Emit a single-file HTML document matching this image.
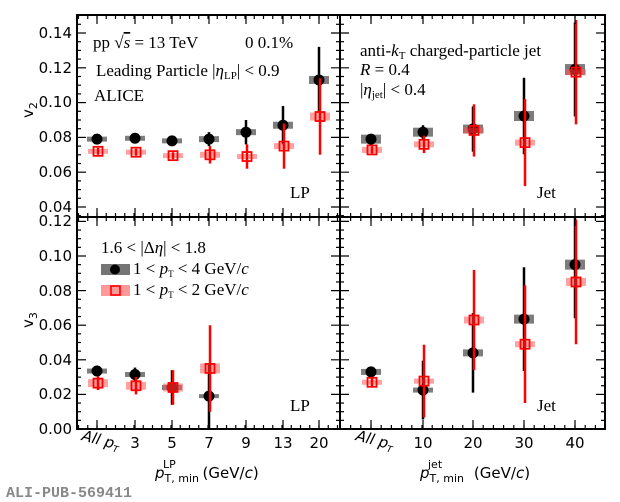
<!DOCTYPE html>
<html><head><meta charset="utf-8"><style>
body{margin:0;background:#fff;}
svg{display:block;}
.t{font-family:"DejaVu Sans","Liberation Sans",sans-serif;font-size:15px;fill:#000;}
.s{font-family:"Liberation Serif","DejaVu Serif",serif;font-size:17px;fill:#000;}
</style></head><body>
<svg id="c" width="620" height="502" viewBox="0 0 620 502" xmlns="http://www.w3.org/2000/svg">
<rect width="620" height="502" fill="#fff"/>
<g id="data"></g>
<g id="ticks" stroke="#000" stroke-width="1.2"></g>
<rect x="77" y="15" width="528" height="414" fill="none" stroke="#000" stroke-width="2"/>
<line x1="340" y1="15" x2="340" y2="429" stroke="#000" stroke-width="2"/>
<line x1="77" y1="217" x2="605" y2="217" stroke="#000" stroke-width="2"/>
<g class="t" text-anchor="end">
<text x="72" y="38">0.14</text><text x="72" y="73">0.12</text><text x="72" y="107">0.10</text>
<text x="72" y="142">0.08</text><text x="72" y="177">0.06</text><text x="72" y="212">0.04</text>
<text x="72" y="226">0.12</text><text x="72" y="261">0.10</text><text x="72" y="296">0.08</text>
<text x="72" y="330">0.06</text><text x="72" y="365">0.04</text><text x="72" y="399">0.02</text><text x="72" y="434">0.00</text>
</g>
<text class="t" x="28" y="123" transform="rotate(-90 28 118)" font-size="16">v<tspan font-size="11" dy="4">2</tspan></text>
<text class="t" x="28" y="333" transform="rotate(-90 28 328)" font-size="16">v<tspan font-size="11" dy="4">3</tspan></text>
<g class="t" text-anchor="middle">
<text x="135" y="448">3</text><text x="172" y="448">5</text><text x="209" y="448">7</text><text x="246" y="448">9</text><text x="283" y="448">13</text><text x="319" y="448">20</text>
<text x="423" y="448">10</text><text x="473" y="448">20</text><text x="524" y="448">30</text><text x="575" y="448">40</text>
</g>
<text class="t" font-size="12" font-style="italic" transform="translate(81 440) rotate(15)">All p<tspan font-size="9" dy="3">T</tspan></text>
<text class="t" font-size="12" font-style="italic" transform="translate(355 440) rotate(15)">All p<tspan font-size="9" dy="3">T</tspan></text>
<text class="t" x="155" y="478" font-size="16"><tspan font-style="italic">p</tspan><tspan font-size="11" dy="4">T, min</tspan><tspan font-size="11" dx="-36" dy="-14">LP</tspan><tspan dx="22" dy="10"> (GeV/</tspan><tspan font-style="italic">c</tspan>)</text>
<text class="t" x="420" y="478" font-size="16"><tspan font-style="italic">p</tspan><tspan font-size="11" dy="4">T, min</tspan><tspan font-size="11" dx="-36" dy="-14">jet</tspan><tspan dx="27" dy="10"> (GeV/</tspan><tspan font-style="italic">c</tspan>)</text>
<text x="6" y="497" font-family="Liberation Mono,monospace" font-weight="bold" font-size="15" fill="#888">ALI-PUB-569411</text>
<text class="s" x="93" y="48" font-size="18">pp <tspan>√</tspan><tspan text-decoration="overline" font-style="italic">s</tspan> = 13 TeV</text>
<text class="s" x="245" y="48" font-size="18">0  0.1%</text>
<text class="s" x="96" y="76" font-size="17">Leading Particle |<tspan font-style="italic">η</tspan><tspan font-size="11" dy="3">LP</tspan><tspan dy="-3">| &lt; 0.9</tspan></text>
<text class="s" x="94" y="101" font-size="19">ALICE</text>
<text class="s" x="290" y="198" font-size="18">LP</text>
<text class="s" x="360" y="56" font-size="17">anti-<tspan font-style="italic">k</tspan><tspan font-size="11" dy="3">T</tspan><tspan dy="-3"> charged-particle jet</tspan></text>
<text class="s" x="360" y="75" font-size="18" font-style="italic">R<tspan font-style="normal"> = 0.4</tspan></text>
<text class="s" x="360" y="95" font-size="18">|<tspan font-style="italic">η</tspan><tspan font-size="11" dy="3">jet</tspan><tspan dy="-3">| &lt; 0.4</tspan></text>
<text class="s" x="537" y="198" font-size="18">Jet</text>
<text class="s" x="290" y="411" font-size="18">LP</text>
<text class="s" x="537" y="411" font-size="18">Jet</text>
<text class="s" x="101" y="253" font-size="17">1.6 &lt; |Δ<tspan font-style="italic">η</tspan>| &lt; 1.8</text>
<rect x="101" y="264" width="29" height="11" fill="#666" opacity="0.9"/>
<circle cx="115" cy="269.5" r="5" fill="#000"/>
<text class="s" x="133" y="274" font-size="14">1 &lt; <tspan font-style="italic">p</tspan><tspan font-size="9" dy="3">T</tspan><tspan dy="-3"> &lt; 4 GeV/</tspan><tspan font-style="italic">c</tspan></text>
<rect x="101" y="285" width="29" height="11" fill="#f55" opacity="0.6"/>
<rect x="111" y="286" width="9" height="9" fill="none" stroke="#f00" stroke-width="1.6"/>
<text class="s" x="133" y="295" font-size="14">1 &lt; <tspan font-style="italic">p</tspan><tspan font-size="9" dy="3">T</tspan><tspan dy="-3"> &lt; 2 GeV/</tspan><tspan font-style="italic">c</tspan></text>
</svg>
<script>
var NS="http://www.w3.org/2000/svg";
function el(p,n,a){var e=document.createElementNS(NS,n);for(var k in a)e.setAttribute(k,a[k]);p.appendChild(e);return e;}
var D=document.getElementById("data"),T=document.getElementById("ticks");
function yt(v){return 33+(0.14-v)*1740;}
function yb(v){return 429-v*1730;}
function clip(y,top){return Math.max(y,top);}
var XL=[97,135,172,209,246,283,319],XR=[371,423,473,524,575];
function series(xs,vals,errs,sysh,fy,top,bot,red,dx){
 for(var i=0;i<vals.length;i++){
  var x=xs[i]+dx,y=fy(vals[i]),y1=clip(fy(vals[i]+errs[i]),top),y2=Math.min(fy(vals[i]-errs[i]),bot);
  var h=sysh[i];
  el(D,"rect",{x:x-10,y:y-h/2,width:20,height:h,fill:red?"#f55":"#666",opacity:red?0.55:0.85});
  el(D,"line",{x1:x,y1:y1,x2:x,y2:y2,stroke:red?"#f00":"#000","stroke-width":2.5});
  if(red)el(D,"rect",{x:x-4.5,y:y-4.5,width:9,height:9,fill:"none",stroke:"#f00","stroke-width":1.8});
  else el(D,"circle",{cx:x,cy:y,r:5.5,fill:"#000"});
 }
}
series(XL,[0.079,0.0795,0.078,0.079,0.083,0.087,0.113],[0.0015,0.0015,0.002,0.004,0.007,0.011,0.019],[5,5,5,6,6,7,8],yt,16,216,false,0);
series(XL,[0.072,0.0715,0.0695,0.070,0.069,0.075,0.092],[0.002,0.002,0.002,0.005,0.007,0.013,0.022],[5,5,5,6,5,6,8],yt,16,216,true,1);
series(XR,[0.079,0.083,0.0848,0.0923,0.119],[0.001,0.004,0.013,0.022,0.027],[9,9,9,10,11],yt,16,216,false,0);
series(XR,[0.0728,0.076,0.084,0.077,0.1175],[0.002,0.005,0.015,0.025,0.03],[6,6,6,6,6],yt,16,216,true,1);
series(XL,[0.0335,0.0315,0.024,0.019],[0.003,0.004,0.01,0.019],[5,5,5,4],yb,218,429,false,0);
series(XL,[0.0265,0.025,0.024,0.035],[0.004,0.005,0.01,0.025],[8,8,8,10],yb,218,429,true,1);
series(XR,[0.033,0.0225,0.044,0.0635,0.095],[0.003,0.017,0.023,0.03,0.031],[6,5,7,9,10],yb,218,429,false,0);
series(XR,[0.027,0.0277,0.063,0.049,0.085],[0.003,0.021,0.029,0.034,0.036],[5,5,7,6,8],yb,218,429,true,1);
function hy(y,L){el(T,"line",{x1:77,y1:y,x2:77+L,y2:y});el(T,"line",{x1:340-L,y1:y,x2:340+L,y2:y});el(T,"line",{x1:605-L,y1:y,x2:605,y2:y});}
for(var v=0.035;v<=0.1501;v+=0.005){var y=yt(v);if(y<16||y>216)continue;var maj=Math.abs((v*100)%2)<0.01||Math.abs((v*100)%2-2)<0.01;hy(y,maj?9:4);}
for(var v=0.0;v<=0.1226;v+=0.005){var y=yb(v);if(y<218||y>429)continue;var maj=Math.abs((v*1000)%20)<0.1||Math.abs((v*1000)%20-20)<0.1;hy(y,maj?9:4);}
function vx(x,L){[[15,15+L],[217-L,217+L],[429-L,429]].forEach(function(p){el(T,"line",{x1:x,y1:p[0],x2:x,y2:p[1]});});}
for(var i=0;i<7;i++){vx(XL[i],9);}
for(var x=XL[0]-37;x<340;x+=37/4){if(x>78)vx(x,4);}
for(var i=0;i<5;i++){vx(XR[i],9);}
for(var x=XR[0]-51;x<605;x+=51/5){if(x>341)vx(x,4);}
</script>
</body></html>
